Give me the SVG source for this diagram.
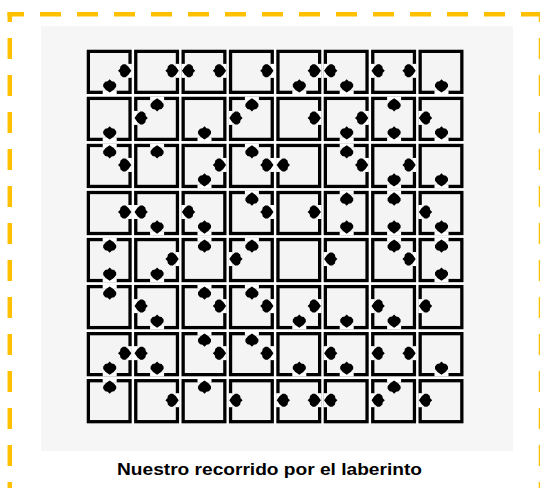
<svg xmlns="http://www.w3.org/2000/svg" xmlns:xlink="http://www.w3.org/1999/xlink" width="540" height="488" viewBox="0 0 540 488">
<style>
.dash{fill:none;stroke:#FFC000;stroke-width:4.5;stroke-dasharray:21 16}
.box{fill:#F4F4F4;stroke:#000;stroke-width:3.3}
.gap{fill:#FFFFFF}
.ar{fill:#000}
.cap{font-family:"Liberation Sans",Arial,sans-serif;font-weight:bold;font-size:16px;fill:#000}
</style>
<defs>
<polygon id="ar" class="ar" points="-6.5,0 -4.5,-2 -4,-4.5 -1.5,-6.5 1,-6.5 4,-4 6.8,0 4,4 1,6.5 -1.5,6.5 -4,4.5 -4.5,2"/>
<rect id="box" class="box" x="1.65" y="1.65" width="41.7" height="41"/>
<g id="E"><rect class="gap" x="41.3" y="14.15" width="3.9" height="14"/><use href="#ar" transform="translate(37.8,21.15)"/></g>
<g id="W"><rect class="gap" x="-0.2" y="14.15" width="3.9" height="14"/><use href="#ar" transform="translate(7.2,21.15) rotate(180)"/></g>
<g id="N"><rect class="gap" x="16" y="-0.2" width="14" height="3.9"/><use href="#ar" transform="translate(23,8.3) rotate(-90)"/></g>
<g id="S"><rect class="gap" x="16" y="40.6" width="14" height="3.9"/><use href="#ar" transform="translate(23,36) rotate(90)"/></g>
</defs>
<rect x="0" y="0" width="540" height="488" fill="#FFFFFF"/>
<g id="frame">
<path class="dash" d="M7.5,14.3 H545" stroke-dashoffset="4.5"/>
<path class="dash" d="M9.8,12 V495" stroke-dashoffset="11"/>
<path class="dash" d="M541,12 V495" stroke-dashoffset="11"/>
</g>
<rect id="panel" x="41" y="26" width="472" height="425" fill="#F6F6F6"/>
<rect id="maze-bg" x="86" y="49" width="378" height="375" fill="#FFFFFF"/>
<g id="maze">
<!-- row 1 -->
<g id="r1c1" transform="translate(86.7,49.7)"><use href="#box"/><use href="#E"/><use href="#S"/></g>
<g id="r1c2" transform="translate(134.1,49.7)"><use href="#box"/><use href="#E"/></g>
<g id="r1c3" transform="translate(181.5,49.7)"><use href="#box"/><use href="#W"/><use href="#E"/></g>
<g id="r1c4" transform="translate(228.9,49.7)"><use href="#box"/><use href="#E"/></g>
<g id="r1c5" transform="translate(276.3,49.7)"><use href="#box"/><use href="#E"/><use href="#S"/></g>
<g id="r1c6" transform="translate(323.7,49.7)"><use href="#box"/><use href="#W"/><use href="#S"/></g>
<g id="r1c7" transform="translate(371.1,49.7)"><use href="#box"/><use href="#W"/><use href="#E"/></g>
<g id="r1c8" transform="translate(418.5,49.7)"><use href="#box"/><use href="#S"/></g>
<!-- row 2 -->
<g id="r2c1" transform="translate(86.7,96.75)"><use href="#box"/><use href="#S"/></g>
<g id="r2c2" transform="translate(134.1,96.75)"><use href="#box"/><use href="#N"/><use href="#W"/></g>
<g id="r2c3" transform="translate(181.5,96.75)"><use href="#box"/><use href="#S"/></g>
<g id="r2c4" transform="translate(228.9,96.75)"><use href="#box"/><use href="#N"/><use href="#W"/></g>
<g id="r2c5" transform="translate(276.3,96.75)"><use href="#box"/><use href="#E"/></g>
<g id="r2c6" transform="translate(323.7,96.75)"><use href="#box"/><use href="#E"/><use href="#S"/></g>
<g id="r2c7" transform="translate(371.1,96.75)"><use href="#box"/><use href="#N"/><use href="#S"/></g>
<g id="r2c8" transform="translate(418.5,96.75)"><use href="#box"/><use href="#W"/><use href="#S"/></g>
<!-- row 3 -->
<g id="r3c1" transform="translate(86.7,143.8)"><use href="#box"/><use href="#N"/><use href="#E"/></g>
<g id="r3c2" transform="translate(134.1,143.8)"><use href="#box"/><use href="#N"/></g>
<g id="r3c3" transform="translate(181.5,143.8)"><use href="#box"/><use href="#E"/><use href="#S"/></g>
<g id="r3c4" transform="translate(228.9,143.8)"><use href="#box"/><use href="#N"/><use href="#E"/></g>
<g id="r3c5" transform="translate(276.3,143.8)"><use href="#box"/><use href="#W"/></g>
<g id="r3c6" transform="translate(323.7,143.8)"><use href="#box"/><use href="#N"/><use href="#E"/></g>
<g id="r3c7" transform="translate(371.1,143.8)"><use href="#box"/><use href="#E"/><use href="#S"/></g>
<g id="r3c8" transform="translate(418.5,143.8)"><use href="#box"/><use href="#S"/></g>
<!-- row 4 -->
<g id="r4c1" transform="translate(86.7,190.85)"><use href="#box"/><use href="#E"/></g>
<g id="r4c2" transform="translate(134.1,190.85)"><use href="#box"/><use href="#W"/><use href="#S"/></g>
<g id="r4c3" transform="translate(181.5,190.85)"><use href="#box"/><use href="#W"/><use href="#S"/></g>
<g id="r4c4" transform="translate(228.9,190.85)"><use href="#box"/><use href="#N"/><use href="#E"/></g>
<g id="r4c5" transform="translate(276.3,190.85)"><use href="#box"/><use href="#E"/></g>
<g id="r4c6" transform="translate(323.7,190.85)"><use href="#box"/><use href="#N"/><use href="#S"/></g>
<g id="r4c7" transform="translate(371.1,190.85)"><use href="#box"/><use href="#N"/><use href="#S"/></g>
<g id="r4c8" transform="translate(418.5,190.85)"><use href="#box"/><use href="#W"/><use href="#S"/></g>
<!-- row 5 -->
<g id="r5c1" transform="translate(86.7,237.9)"><use href="#box"/><use href="#N"/><use href="#S"/></g>
<g id="r5c2" transform="translate(134.1,237.9)"><use href="#box"/><use href="#E"/><use href="#S"/></g>
<g id="r5c3" transform="translate(181.5,237.9)"><use href="#box"/><use href="#N"/></g>
<g id="r5c4" transform="translate(228.9,237.9)"><use href="#box"/><use href="#N"/><use href="#W"/></g>
<g id="r5c5" transform="translate(276.3,237.9)"><use href="#box"/></g>
<g id="r5c6" transform="translate(323.7,237.9)"><use href="#box"/><use href="#W"/></g>
<g id="r5c7" transform="translate(371.1,237.9)"><use href="#box"/><use href="#N"/><use href="#E"/></g>
<g id="r5c8" transform="translate(418.5,237.9)"><use href="#box"/><use href="#N"/><use href="#S"/></g>
<!-- row 6 -->
<g id="r6c1" transform="translate(86.7,284.95)"><use href="#box"/><use href="#N"/></g>
<g id="r6c2" transform="translate(134.1,284.95)"><use href="#box"/><use href="#W"/><use href="#S"/></g>
<g id="r6c3" transform="translate(181.5,284.95)"><use href="#box"/><use href="#N"/><use href="#E"/></g>
<g id="r6c4" transform="translate(228.9,284.95)"><use href="#box"/><use href="#N"/><use href="#E"/></g>
<g id="r6c5" transform="translate(276.3,284.95)"><use href="#box"/><use href="#E"/><use href="#S"/></g>
<g id="r6c6" transform="translate(323.7,284.95)"><use href="#box"/><use href="#S"/></g>
<g id="r6c7" transform="translate(371.1,284.95)"><use href="#box"/><use href="#W"/><use href="#S"/></g>
<g id="r6c8" transform="translate(418.5,284.95)"><use href="#box"/><use href="#W"/></g>
<!-- row 7 -->
<g id="r7c1" transform="translate(86.7,332)"><use href="#box"/><use href="#E"/><use href="#S"/></g>
<g id="r7c2" transform="translate(134.1,332)"><use href="#box"/><use href="#W"/><use href="#S"/></g>
<g id="r7c3" transform="translate(181.5,332)"><use href="#box"/><use href="#N"/><use href="#E"/></g>
<g id="r7c4" transform="translate(228.9,332)"><use href="#box"/><use href="#N"/><use href="#E"/></g>
<g id="r7c5" transform="translate(276.3,332)"><use href="#box"/><use href="#S"/></g>
<g id="r7c6" transform="translate(323.7,332)"><use href="#box"/><use href="#W"/><use href="#S"/></g>
<g id="r7c7" transform="translate(371.1,332)"><use href="#box"/><use href="#W"/><use href="#E"/></g>
<g id="r7c8" transform="translate(418.5,332)"><use href="#box"/><use href="#S"/></g>
<!-- row 8 -->
<g id="r8c1" transform="translate(86.7,379.05)"><use href="#box"/><use href="#N"/></g>
<g id="r8c2" transform="translate(134.1,379.05)"><use href="#box"/><use href="#E"/></g>
<g id="r8c3" transform="translate(181.5,379.05)"><use href="#box"/><use href="#N"/></g>
<g id="r8c4" transform="translate(228.9,379.05)"><use href="#box"/><use href="#W"/></g>
<g id="r8c5" transform="translate(276.3,379.05)"><use href="#box"/><use href="#W"/><use href="#E"/></g>
<g id="r8c6" transform="translate(323.7,379.05)"><use href="#box"/><use href="#W"/></g>
<g id="r8c7" transform="translate(371.1,379.05)"><use href="#box"/><use href="#N"/><use href="#W"/></g>
<g id="r8c8" transform="translate(418.5,379.05)"><use href="#box"/><use href="#W"/></g>
</g>
<text id="caption" class="cap" x="269.5" y="475" text-anchor="middle" textLength="305" lengthAdjust="spacingAndGlyphs">Nuestro recorrido por el laberinto</text>
</svg>
